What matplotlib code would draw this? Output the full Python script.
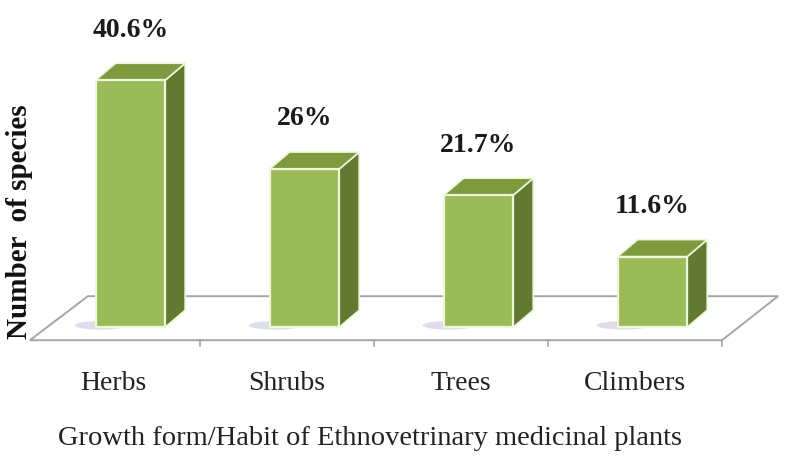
import numpy as np
import matplotlib.pyplot as plt
from matplotlib.patches import Polygon, Ellipse

categories = ['Herbs', 'Shrubs', 'Trees', 'Climbers']
percent = [40.6, 26.0, 21.7, 11.6]
labels = ['40.6%', '26%', '21.7%', '11.6%']

plt.rcParams['font.family'] = ['Liberation Serif', 'DejaVu Serif']

fig = plt.figure(figsize=(8.12, 4.61), dpi=100)
ax = fig.add_axes([0, 0, 1, 1])
ax.set_xlim(-0.649, 4.017)
ax.set_ylim(-22.0, 53.8)
ax.axis('off')

front = '#9bbb59'
top_c = '#7e9a3f'
side_c = '#627a2f'
edge = '#eef7dc'

shift = 0.1      # front face offset from category centre
w = 0.40         # front face width
ddx, ddy = 0.115, 2.8   # depth offset

# floor of the pseudo 3d plot
fx0, fx1 = -0.477, 3.5
fy0, fy1 = -2.14, 5.1
floor = Polygon([(fx0, fy0), (fx1, fy0), (fx1 + 0.322, fy1), (fx0 + 0.333, fy1)],
                closed=True, facecolor='white', edgecolor='#a6a6a6', lw=1.4, zorder=1)
ax.add_patch(floor)
for t in [0.5, 1.5, 2.5, 3.5]:
    ax.plot([t, t], [fy0, fy0 - 1.0], color='#a6a6a6', lw=1.2, zorder=1)

x = np.arange(len(categories))
for i, v in enumerate(percent):
    left = x[i] + shift - w / 2
    right = left + w
    # soft shadow at base
    ax.add_patch(Ellipse((left + 0.03, 0.3), 0.3, 1.4, facecolor='#c9c7dc',
                         edgecolor='none', alpha=0.6, zorder=2))
    ax.bar(x[i] + shift, v, width=w, bottom=0, color=front, edgecolor=edge,
           linewidth=1.6, zorder=4)
    side = Polygon([(right, 0), (right + ddx, ddy), (right + ddx, v + ddy), (right, v)],
                   closed=True, facecolor=side_c, edgecolor=edge, lw=1.2, zorder=3)
    top = Polygon([(left, v), (left + ddx, v + ddy), (right + ddx, v + ddy), (right, v)],
                  closed=True, facecolor=top_c, edgecolor=edge, lw=1.2, zorder=3)
    ax.add_patch(side)
    ax.add_patch(top)
    ax.text(x[i] + shift, v + ddy + 3.4, labels[i], ha='center', va='bottom',
            fontsize=20, fontweight='bold', color='#1a1a1a', zorder=5)
    ax.text(x[i], -9.2, categories[i], ha='center', va='center',
            fontsize=20, color='#222222')

ax.text(1.48, -18.3, 'Growth form/Habit of Ethnovetrinary medicinal plants',
        ha='center', va='center', fontsize=20.5, color='#222222')
ax.text(-0.535, 17.3, 'Number  of species', rotation=90, ha='center', va='center',
        fontsize=21, fontweight='bold', color='#111111')

fig.savefig('out.png', dpi=100)
